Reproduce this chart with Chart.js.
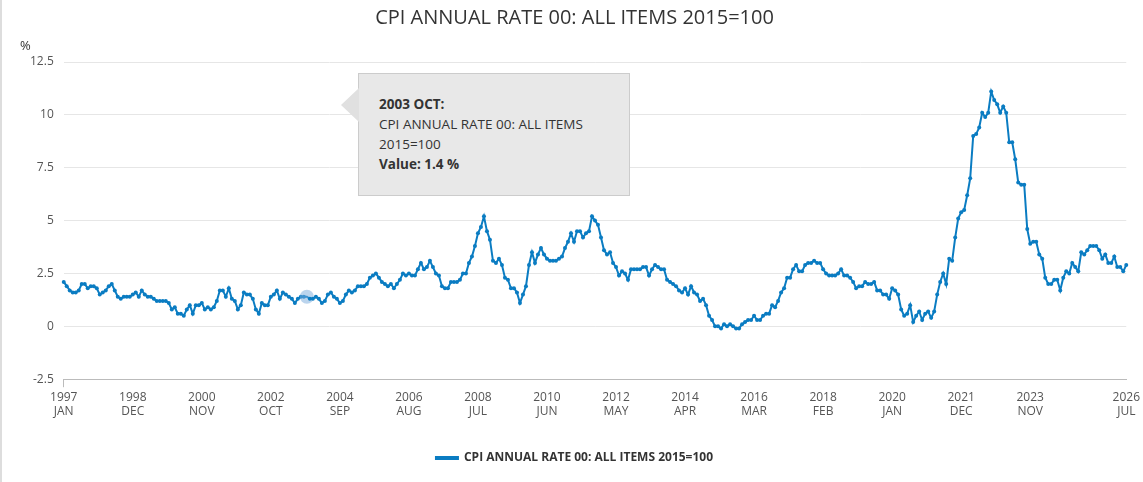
<!DOCTYPE html>
<html><head><meta charset="utf-8">
<script src="https://cdn.jsdelivr.net/npm/chart.js@4/dist/chart.umd.min.js"></script>
<style>
body{margin:0;background:#fff;font-family:"Open Sans",sans-serif;}
#wrap{position:relative;width:1143px;height:482px;border-left:2px solid #ddd;box-sizing:border-box;}
#tip{position:absolute;left:356px;top:73px;width:272px;height:123px;background:#e8e8e8;border:1px solid #ccc;box-sizing:border-box;padding:20px 20px;font-size:13.5px;color:#333;line-height:20px;}
#tip:before{content:"";position:absolute;left:-18px;top:14px;border-style:solid;border-width:17px 18px 17px 0;border-color:transparent #e0e0e0 transparent transparent;}
#pct{position:absolute;left:18px;top:36px;font-size:13px;color:#333;}
</style></head><body>
<div id="wrap"><canvas id="c" width="1141" height="482"></canvas>
<div id="pct">%</div>
<div id="tip"><b>2003 OCT:</b><br>CPI ANNUAL RATE 00: ALL ITEMS<br>2015=100<br><b>Value: 1.4 %</b></div></div>
<script>
const months=["JAN","FEB","MAR","APR","MAY","JUN","JUL","AUG","SEP","OCT","NOV","DEC"];
const seriesName="CPI ANNUAL RATE 00: ALL ITEMS 2015=100";
const values=[
2.1,1.9,1.7,1.6,1.6,1.7,2.0,2.0,1.8,1.9,1.9,1.8,
1.5,1.6,1.7,1.9,2.0,1.7,1.4,1.3,1.4,1.4,1.4,1.5,
1.6,1.4,1.7,1.5,1.4,1.4,1.3,1.2,1.2,1.2,1.2,1.1,
0.8,0.9,0.6,0.6,0.5,0.8,1.0,0.6,1.0,1.0,1.1,0.8,
0.9,0.8,0.9,1.2,1.7,1.7,1.4,1.8,1.3,1.2,0.8,1.0,
1.6,1.5,1.5,1.3,0.8,0.6,1.1,1.0,1.0,1.4,1.5,1.7,
1.3,1.6,1.5,1.4,1.3,1.1,1.3,1.4,1.4,1.4,1.3,1.3,
1.4,1.3,1.1,1.2,1.5,1.6,1.4,1.3,1.1,1.2,1.5,1.7,
1.6,1.7,1.9,1.9,1.9,2.0,2.3,2.4,2.5,2.3,2.1,2.0,
1.9,2.0,1.8,2.0,2.2,2.5,2.4,2.5,2.4,2.4,2.7,3.0,
2.7,2.8,3.1,2.8,2.5,2.4,1.9,1.8,1.8,2.1,2.1,2.1,
2.2,2.5,2.5,3.0,3.3,3.8,4.4,4.7,5.2,4.5,4.1,3.1,
3.0,3.2,2.9,2.3,2.2,1.8,1.8,1.6,1.1,1.5,1.9,2.9,
3.5,3.0,3.4,3.7,3.4,3.2,3.1,3.1,3.1,3.2,3.3,3.7,
4.0,4.4,4.0,4.5,4.5,4.2,4.4,4.5,5.2,5.0,4.8,4.2,
3.6,3.4,3.5,3.0,2.8,2.4,2.6,2.5,2.2,2.7,2.7,2.7,
2.7,2.8,2.8,2.4,2.7,2.9,2.8,2.7,2.7,2.2,2.1,2.0,
1.9,1.7,1.6,1.8,1.5,1.9,1.6,1.5,1.2,1.3,1.0,0.5,
0.3,0.0,0.0,-0.1,0.1,0.0,0.1,0.0,-0.1,-0.1,0.1,0.2,
0.3,0.3,0.5,0.3,0.3,0.5,0.6,0.6,1.0,0.9,1.2,1.6,
1.8,2.3,2.3,2.7,2.9,2.6,2.6,2.9,3.0,3.0,3.1,3.0,
3.0,2.7,2.5,2.4,2.4,2.4,2.5,2.7,2.4,2.4,2.3,2.1,
1.8,1.9,1.9,2.1,2.0,2.0,2.1,1.7,1.7,1.5,1.5,1.3,
1.8,1.7,1.5,0.8,0.5,0.6,1.0,0.2,0.5,0.7,0.3,0.6,
0.7,0.4,0.7,1.5,2.1,2.5,2.0,3.2,3.1,4.2,5.1,5.4,
5.5,6.2,7.0,9.0,9.1,9.4,10.1,9.9,10.1,11.1,10.7,10.5,
10.1,10.4,10.1,8.7,8.7,7.9,6.8,6.7,6.7,4.6,3.9,4.0,
4.0,3.4,3.2,2.3,2.0,2.0,2.2,2.2,1.7,2.3,2.6,2.5,
3.0,2.8,2.6,3.5,3.4,3.6,3.8,3.8,3.8,3.6,3.2,3.4,
3.0,3.0,3.3,2.8,2.8,2.6,2.9];
const labels=values.map((v,i)=>(1997+Math.floor(i/12))+" "+months[i%12]);
const yTicks=[-2.5,0,2.5,5,7.5,10,12.5];
const hl=81;
new Chart(document.getElementById('c'),{type:'line',
data:{labels,datasets:[{label:seriesName,data:values,borderColor:'#0a7cc2',backgroundColor:'#0a7cc2',borderWidth:2,
pointRadius:c=>c.dataIndex===hl?7:2,pointBackgroundColor:c=>c.dataIndex===hl?'rgba(120,170,220,0.5)':'#0a7cc2',pointBorderWidth:0,tension:0}]},
options:{responsive:false,animation:false,layout:{padding:{left:18,right:14,top:0,bottom:8}},
plugins:{tooltip:{enabled:false},
title:{display:true,text:seriesName,color:'#333',font:{family:'Open Sans',size:20,weight:'normal'},padding:{top:6,bottom:32}},
legend:{position:'bottom',labels:{color:'#333',font:{family:'Open Sans',size:12,weight:'bold'},boxWidth:22,boxHeight:2,padding:30}}},
scales:{y:{min:-2.5,max:12.5,afterBuildTicks:a=>{a.ticks=yTicks.map(v=>({value:v}));},
ticks:{color:'#555',font:{family:'Open Sans',size:12},padding:10},grid:{color:'#e6e6e6',drawTicks:false},border:{display:false}},
x:{ticks:{autoSkip:false,maxRotation:0,color:'#555',font:{family:'Open Sans',size:12},
callback:(v,i)=>{if(i===values.length-1||(i%23===0&&i<=322)){const l=labels[i].split(' ');return l;}return null;}},
grid:{display:true,drawOnChartArea:false,color:c=>(c.index===values.length-1||(c.index%23===0&&c.index<=322))?'#bbb':'rgba(0,0,0,0)',tickLength:8},
border:{color:'#bbb'}}}}});
</script></body></html>
